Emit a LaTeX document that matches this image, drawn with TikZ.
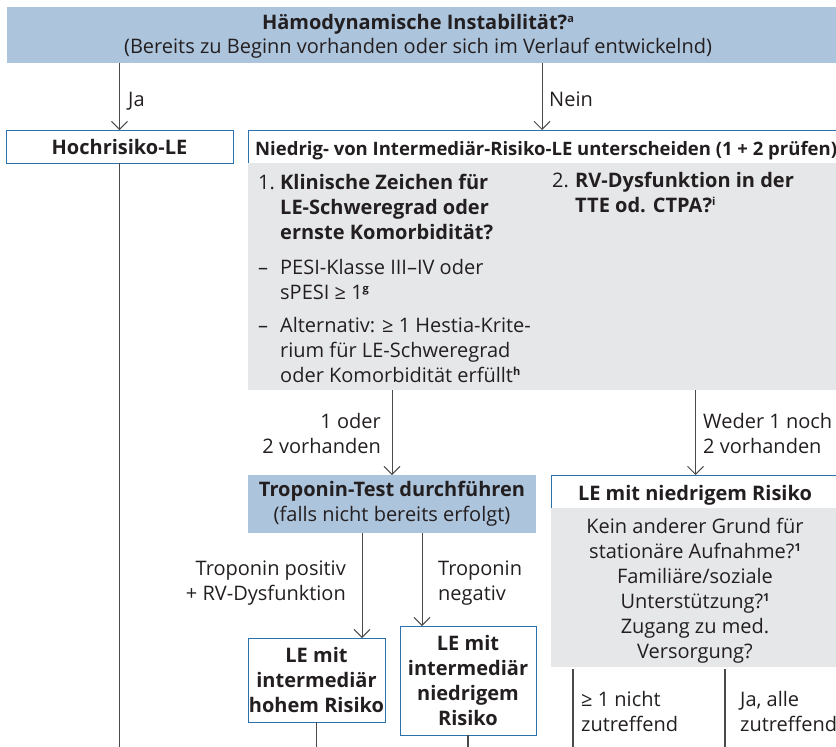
\documentclass[tikz,border=0pt]{standalone}
\usepackage{fontspec}
\setmainfont{Open Sans}
\usetikzlibrary{positioning,arrows.meta,calc}
\definecolor{hdblue}{HTML}{ADC4DD}
\definecolor{boxblue}{HTML}{2A72AE}
\definecolor{panelgrey}{HTML}{E6E7E9}
\definecolor{ink}{HTML}{231F20}
\definecolor{linegrey}{HTML}{4A4A4A}
\newcommand{\ftxt}{\fontsize{20}{25}\selectfont}
\newcommand{\fnmark}[1]{\raisebox{6.5pt}{\fontsize{11}{11}\selectfont\bfseries #1}}

\begin{document}
\begin{tikzpicture}[x=1pt, y=-1pt,
    every node/.style={font=\ftxt, text=ink},
    bluebox/.style={fill=hdblue, inner sep=0pt, outer sep=0pt},
    whitebox/.style={draw=boxblue, line width=0.9pt, fill=white, inner sep=0pt, outer sep=0pt, align=center, font=\ftxt\bfseries},
    greybox/.style={fill=panelgrey, inner sep=0pt, outer sep=0pt},
    lbl/.style={inner sep=0pt, anchor=base west, align=left},
    rlbl/.style={inner sep=0pt, anchor=base east, align=right},
    clbl/.style={inner sep=0pt, anchor=base, align=center},
    arr/.style={draw=linegrey, line width=0.9pt, -{Straight Barb[length=8pt,width=16pt,line width=0.9pt]}},
    ln/.style={draw=linegrey, line width=1.3pt}]
    \useasboundingbox (0,0) rectangle (836,747);
    \coordinate (bot) at (0,750);
    \coordinate (neinx) at (542,0);
    \coordinate (posx) at (362,0);
    \coordinate (negx) at (422,0);
    \coordinate (nichtx) at (573,0);
    \coordinate (allex) at (725,0);

    \node (hdbox) [bluebox, minimum width=833pt, minimum height=56pt] at (423.5,35) {};
    \node (hdtitle) [clbl] at (418,29) {\bfseries Hämodynamische Instabilität?\fnmark{a}};
    \node (hdsub) [clbl] at (418,53) {(Bereits zu Beginn vorhanden oder sich im Verlauf entwickelnd)};

    \node (hochbox) [whitebox, minimum width=227pt, minimum height=33pt] at (119.5,146.5) {Hochrisiko-LE};
    \node (ndbox) [whitebox, minimum width=592pt, minimum height=33pt] at (544,146.5) {};
    \node (ndtitle) [lbl, font=\fontsize{18.5}{25}\selectfont\bfseries] at (255,155) {Niedrig- von Intermediär-Risiko-LE unterscheiden (1 + 2 prüfen)};
    \node (ndpanel) [greybox, minimum width=592pt, minimum height=227pt] at (544,276.5) {};

    \node (q1num) [lbl] at (258,189) {1.};
    \node (q1) [lbl, font=\ftxt\bfseries] at (280,239) {Klinische Zeichen für\\LE-Schweregrad oder\\ernste Komorbidität?};
    \node (d1) [lbl] at (258,274) {–};
    \node (t1) [lbl] at (280,299) {PESI-Klasse III–IV oder\\sPESI ≥ 1\fnmark{g}};
    \node (d2) [lbl] at (258,332) {–};
    \node (t2) [lbl] at (280,382) {Alternativ: ≥ 1 Hestia-Krite-\\rium für LE-Schweregrad\\oder Komorbidität erfüllt\fnmark{h}};
    \node (q2num) [lbl] at (552,187) {2.};
    \node (q2) [lbl, font=\ftxt\bfseries] at (575,212) {RV-Dysfunktion in der\\TTE od. CTPA?\fnmark{i}};

    \node (tropbox) [bluebox, align=center, minimum width=288pt, minimum height=58pt] at (392,504) {\bfseries Troponin-Test durchführen\\(falls nicht bereits erfolgt)};
    \node (lowbox) [whitebox, minimum width=289pt, minimum height=33pt] at (695.5,491.5) {};
    \node (lowtitle) [clbl, font=\ftxt\bfseries] at (695,500) {LE mit niedrigem Risiko};
    \node (lowpanel) [greybox, minimum width=289pt, minimum height=159pt] at (695.5,587.5) {};
    \node (lowtext) [clbl] at (695,658) {Kein anderer Grund für\\stationäre Aufnahme?\fnmark{1}\\Familiäre/soziale\\Unterstützung?\fnmark{1}\\Zugang zu med.\\Versorgung?};

    \node (ihbox) [whitebox, minimum width=137pt, minimum height=84pt] at (316.5,680) {LE mit\\intermediär\\hohem Risiko};
    \node (inbox) [whitebox, minimum width=136pt, minimum height=109pt] at (468,680.5) {LE mit\\intermediär\\niedrigem\\Risiko};

    \node (ja) [lbl] at (128,106) {Ja};
    \node (nein) [lbl] at (549,106) {Nein};
    \node (vorh) [rlbl] at (381,453) {1 oder\\2 vorhanden};
    \node (weder) [lbl] at (703,453) {Weder 1 noch\\2 vorhanden};
    \node (tpos) [rlbl] at (346,600) {Troponin positiv\\+ RV-Dysfunktion};
    \node (tneg) [lbl] at (438,600) {Troponin\\negativ};
    \node (nicht) [lbl] at (581,731) {≥ 1 nicht\\zutreffend};
    \node (alle) [lbl] at (740,731) {Ja, alle\\zutreffend};

    \draw[arr] (hdbox.south -| hochbox) -- (hochbox.north);
    \draw[arr] (hdbox.south -| neinx) -- (ndbox.north -| neinx);
    \draw[arr] (ndpanel.south -| tropbox) -- (tropbox.north);
    \draw[arr] (ndpanel.south -| lowbox) -- (lowbox.north);
    \draw[arr] (tropbox.south -| posx) -- (ihbox.north -| posx);
    \draw[arr] (tropbox.south -| negx) -- (inbox.north -| negx);
    \draw[ln] (hochbox.south) -- (hochbox.south |- bot);
    \draw[ln] (ihbox.south) -- (ihbox.south |- bot);
    \draw[ln] (inbox.south) -- (inbox.south |- bot);
    \draw[ln] ([yshift=-2pt]lowpanel.south -| nichtx) -- (nichtx |- bot);
    \draw[ln] ([yshift=-2pt]lowpanel.south -| allex) -- (allex |- bot);
\end{tikzpicture}
\end{document}
